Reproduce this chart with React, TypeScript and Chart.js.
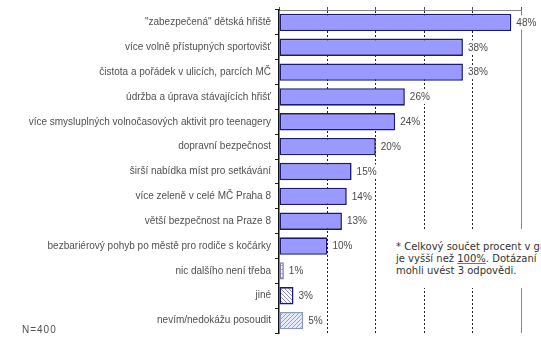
import React, { useEffect, useRef } from 'react';
import { Chart, registerables } from 'chart.js';

Chart.register(...registerables);

const categories = [
  '"zabezpečená" dětská hřiště',
  'více volně přístupných sportovišť',
  'čistota a pořádek v ulicích, parcích MČ',
  'údržba a úprava stávajících hřišť',
  'více smysluplných volnočasových aktivit pro teenagery',
  'dopravní bezpečnost',
  'širší nabídka míst pro setkávání',
  'více zeleně v celé MČ Praha 8',
  'větší bezpečnost na Praze 8',
  'bezbariérový pohyb po městě pro rodiče s kočárky',
  'nic dalšího není třeba',
  'jiné',
  'nevím/nedokážu posoudit',
];
const values = [48, 38, 38, 26, 24, 20, 15, 14, 13, 10, 1, 3, 5];
const valueLabels = ['48%', '38%', '38%', '26%', '24%', '20%', '15%', '14%', '13%', '10%', '1%', '3%', '5%'];
const xMin = 0;
const xMax = 50;
const xStep = 10;
const sampleSize = 'N=400';
const noteLine1 = '* Celkový součet procent v grafu';
const noteLine2a = 'je vyšší než ';
const noteLine2b = '100%';
const noteLine2c = '. Dotázaní';
const noteLine3 = 'mohli uvést 3 odpovědi.';

function makePattern(kind: string, fg: string, bg: string): CanvasPattern | string {
  const c = document.createElement('canvas');
  c.width = 4;
  c.height = 4;
  const x = c.getContext('2d');
  if (!x) return bg;
  x.fillStyle = bg;
  x.fillRect(0, 0, 4, 4);
  x.strokeStyle = fg;
  x.lineWidth = 1;
  x.beginPath();
  if (kind === 'h') {
    x.moveTo(0, 1.5);
    x.lineTo(4, 1.5);
  } else if (kind === 'd1') {
    x.moveTo(0, 4); x.lineTo(4, 0);
    x.moveTo(-1, 1); x.lineTo(1, -1);
    x.moveTo(3, 5); x.lineTo(5, 3);
  } else {
    x.moveTo(0, 0); x.lineTo(4, 4);
    x.moveTo(-1, 3); x.lineTo(1, 5);
    x.moveTo(3, -1); x.lineTo(5, 1);
  }
  x.stroke();
  return x.createPattern(c, 'repeat') || bg;
}

const labelPlugin = {
  id: 'valueLabelsPlugin',
  afterDatasetsDraw(chart: any) {
    const { ctx } = chart;
    const meta = chart.getDatasetMeta(0);
    ctx.save();
    ctx.font = '10px "Liberation Sans", Arial, sans-serif';
    ctx.textBaseline = 'middle';
    ctx.textAlign = 'left';
    meta.data.forEach((bar: any, i: number) => {
      const text = valueLabels[i];
      const x = bar.x + 5;
      const y = bar.y;
      const w = ctx.measureText(text).width;
      ctx.fillStyle = '#ffffff';
      ctx.fillRect(x - 1, y - 7, w + 3, 14);
      ctx.fillStyle = '#4a4a4a';
      ctx.fillText(text, x, y + 0.5);
    });
    ctx.restore();
  },
};

export default function App() {
  const ref = useRef<HTMLCanvasElement | null>(null);

  useEffect(() => {
    document.body.style.margin = '0';
    document.body.style.overflow = 'hidden';
    const canvas = ref.current;
    if (!canvas) return;
    const mainFill = '#9999ff';
    const mainBorder = '#1a1a70';
    const fills: any[] = values.map(() => mainFill);
    const borders: string[] = values.map(() => mainBorder);
    fills[10] = makePattern('h', '#a0a0d0', '#ffffff');
    borders[10] = '#8080a8';
    fills[11] = makePattern('d2', '#8a8ac8', '#ffffff');
    borders[11] = '#1a1a70';
    fills[12] = makePattern('d1', '#8c9ad0', '#e8ecfa');
    borders[12] = '#8a98c0';

    const chart = new Chart(canvas, {
      type: 'bar',
      data: {
        labels: categories,
        datasets: [
          {
            data: values,
            backgroundColor: fills,
            borderColor: borders,
            borderWidth: 1.6,
            borderSkipped: false,
            barPercentage: 0.7,
            categoryPercentage: 1,
          },
        ],
      },
      options: {
        indexAxis: 'y',
        animation: false,
        responsive: true,
        maintainAspectRatio: false,
        layout: { padding: { left: 0, right: 20, top: 0, bottom: 2 } },
        plugins: { legend: { display: false }, tooltip: { enabled: false } },
        scales: {
          x: {
            type: 'linear',
            position: 'top',
            min: xMin,
            max: xMax,
            ticks: { display: false, stepSize: xStep },
            grid: {
              display: true,
              drawOnChartArea: true,
              drawTicks: true,
              tickLength: 3,
              tickColor: '#555555',
              color: (c: any) => (c.tick && c.tick.value === xMin ? 'rgba(0,0,0,0)' : c.tick && c.tick.value === xMax ? '#888888' : '#222222'),
              lineWidth: 1,
            },
            border: {
              display: true,
              color: '#888888',
              width: 1,
              dash: (c: any) => (c.tick && c.tick.value === xMax ? [] : [2, 2]),
            } as any,
            afterFit: (s: any) => {
              s.height = 9;
            },
          },
          y: {
            type: 'category',
            position: 'left',
            ticks: {
              color: '#505050',
              font: { family: '"Liberation Sans", Arial, sans-serif', size: 10 },
              padding: 4,
              autoSkip: false,
            },
            grid: {
              display: true,
              drawOnChartArea: false,
              drawTicks: true,
              tickLength: 4,
              tickColor: '#222222',
              offset: true,
            },
            border: { display: true, color: '#111111', width: 1.5 },
            afterFit: (s: any) => {
              s.width = 279;
            },
          },
        },
      },
      plugins: [labelPlugin],
    } as any);
    return () => chart.destroy();
  }, []);

  return (
    <div style={{ position: 'relative', width: 541, height: 343, overflow: 'hidden', background: '#ffffff' }}>
      <canvas ref={ref} style={{ position: 'absolute', left: 0, top: 0, width: 541, height: 343 }} />
      <div
        style={{
          position: 'absolute',
          left: 22,
          top: 324,
          font: '10px "Liberation Sans", Arial, sans-serif',
          color: '#505050',
          lineHeight: '12px',
          letterSpacing: '1px',
          whiteSpace: 'nowrap',
        }}
      >
        {sampleSize}
      </div>
      <div
        style={{
          position: 'absolute',
          left: 394,
          top: 229,
          width: 200,
          height: 47,
          paddingTop: 12,
          paddingLeft: 2,
          background: '#ffffff',
          font: '10px "DejaVu Sans", sans-serif',
          color: '#333333',
          lineHeight: '12px',
          whiteSpace: 'nowrap',
        }}
      >
        <div>{noteLine1}</div>
        <div>
          {noteLine2a}
          <span style={{ textDecoration: 'underline', textDecorationColor: '#5577aa' }}>{noteLine2b}</span>
          {noteLine2c}
        </div>
        <div>{noteLine3}</div>
      </div>
    </div>
  );
}
